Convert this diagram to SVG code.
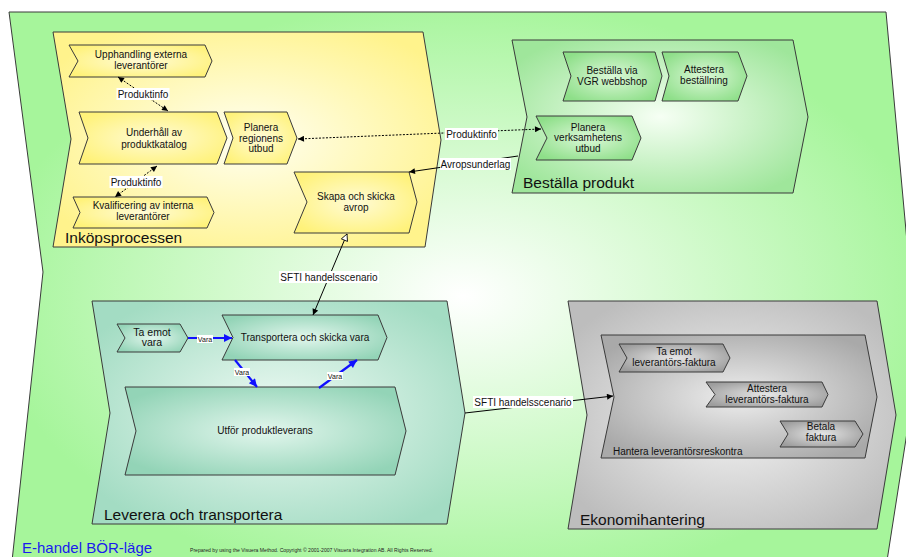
<svg xmlns="http://www.w3.org/2000/svg" width="906" height="557" viewBox="0 0 906 557">
<defs>
<radialGradient id="gOuter" cx="0.5" cy="0.5" r="0.55"><stop offset="0" stop-color="#ffffff"/><stop offset="0.95" stop-color="#a6f59b"/></radialGradient>
<radialGradient id="gYel" cx="0.5" cy="0.5" r="0.6"><stop offset="0" stop-color="#fffff2"/><stop offset="1" stop-color="#fff38c"/></radialGradient>
<radialGradient id="gYelN" cx="0.5" cy="0.5" r="0.6"><stop offset="0" stop-color="#fffbd6"/><stop offset="1" stop-color="#fff27a"/></radialGradient>
<radialGradient id="gGrn" cx="0.5" cy="0.5" r="0.6"><stop offset="0" stop-color="#f6fff4"/><stop offset="1" stop-color="#9fe69b"/></radialGradient>
<radialGradient id="gGrnN" cx="0.5" cy="0.5" r="0.6"><stop offset="0" stop-color="#dcf8d8"/><stop offset="1" stop-color="#8edf89"/></radialGradient>
<radialGradient id="gTeal" cx="0.5" cy="0.5" r="0.6"><stop offset="0" stop-color="#eefaf4"/><stop offset="1" stop-color="#a3dcc3"/></radialGradient>
<radialGradient id="gTealN" cx="0.5" cy="0.5" r="0.6"><stop offset="0" stop-color="#e2f6ed"/><stop offset="1" stop-color="#93d4b7"/></radialGradient>
<radialGradient id="gGray" cx="0.5" cy="0.5" r="0.6"><stop offset="0" stop-color="#f5f5f5"/><stop offset="1" stop-color="#bdbdbd"/></radialGradient>
<radialGradient id="gGrayI" cx="0.5" cy="0.5" r="0.6"><stop offset="0" stop-color="#eeeeee"/><stop offset="1" stop-color="#a9a9a9"/></radialGradient>
<radialGradient id="gGrayN" cx="0.5" cy="0.5" r="0.6"><stop offset="0" stop-color="#e6e6e6"/><stop offset="1" stop-color="#9d9d9d"/></radialGradient>
<marker id="aBlk" viewBox="0 0 10 10" refX="10" refY="5" markerWidth="7" markerHeight="6" markerUnits="userSpaceOnUse" orient="auto-start-reverse"><path d="M0,0 L10,5 L0,10 Z" fill="#000"/></marker>
<marker id="aOpen" viewBox="0 0 12 12" refX="11" refY="6" markerWidth="9" markerHeight="8" markerUnits="userSpaceOnUse" orient="auto-start-reverse"><path d="M1,1 L11,6 L1,11 Z" fill="#fff" stroke="#000" stroke-width="1.2"/></marker>
<marker id="aBlue" viewBox="0 0 10 10" refX="10" refY="5" markerWidth="10" markerHeight="8" markerUnits="userSpaceOnUse" orient="auto"><path d="M0,0 L10,5 L0,10 Z" fill="#1010ff"/></marker>
</defs>
<style>
.sh{stroke:#3a3a3a;stroke-width:1}
.t{font-family:"Liberation Sans",Arial,sans-serif;font-size:10px;fill:#111;text-anchor:middle}
.pl{font-family:"Liberation Sans",Arial,sans-serif;font-size:15.5px;fill:#111}
.lb{fill:#fff}
.dot{stroke:#000;stroke-width:1;stroke-dasharray:2,1.5;fill:none}
.sol{stroke:#000;stroke-width:1;fill:none}
.blu{stroke:#1010ff;stroke-width:2.2;fill:none}
.vt{font-family:"Liberation Sans",Arial,sans-serif;font-size:7px;fill:#111;text-anchor:middle}
</style>

<g id="outer"><path class="sh" d="M9,12 L886,12 L918,362 L884,580 L10,580 L43,272 Z" fill="url(#gOuter)" stroke="#555"/></g>

<g id="inkopsprocessen">
<path class="sh" d="M53,32 L423,32 L441,140 L425,247 L53,247 L71,139 Z" fill="url(#gYel)"/>
<text class="pl" x="65" y="243">Inköpsprocessen</text>
</g>
<g id="bestalla-produkt">
<path class="sh" d="M512,40 L793,40 L808,117 L793,193 L512,193 L527,117 Z" fill="url(#gGrn)"/>
<text class="pl" x="523" y="188">Beställa produkt</text>
</g>
<g id="leverera">
<path class="sh" d="M92,301 L447,301 L465,413 L447,524 L92,524 L110,413 Z" fill="url(#gTeal)"/>
<text class="pl" x="104" y="520">Leverera och transportera</text>
</g>
<g id="ekonomihantering">
<path class="sh" d="M568,301 L877,301 L896,415 L877,529 L568,529 L587,415 Z" fill="url(#gGray)"/>
<text class="pl" x="580" y="525">Ekonomihantering</text>
</g>

<g id="upphandling"><path class="sh" d="M69,45 L205,45 L212,61 L205,77 L69,77 L78,61 Z" fill="url(#gYelN)"/><text class="t" x="141" y="58">Upphandling externa</text><text class="t" x="141" y="69">leverantörer</text></g>
<g id="underhall"><path class="sh" d="M79,112 L217,112 L227,138 L217,164 L79,164 L88,138 Z" fill="url(#gYelN)"/><text class="t" x="154" y="136">Underhåll av</text><text class="t" x="154" y="147.5">produktkatalog</text></g>
<g id="planera-regionens"><path class="sh" d="M224,112 L287,112 L297,138 L287,164 L224,164 L233,138 Z" fill="url(#gYelN)"/><text class="t" x="261" y="130.5">Planera</text><text class="t" x="261" y="141.5">regionens</text><text class="t" x="261" y="152">utbud</text></g>
<g id="kvalificering"><path class="sh" d="M73,197 L207,197 L214,212.5 L207,228 L73,228 L80,212.5 Z" fill="url(#gYelN)"/><text class="t" x="143" y="208.5">Kvalificering av interna</text><text class="t" x="143" y="219.5">leverantörer</text></g>
<g id="skapa-avrop"><path class="sh" d="M294,172 L409,172 L417,202 L409,233 L294,233 L307,202 Z" fill="url(#gYelN)"/><text class="t" x="356" y="199.5">Skapa och skicka</text><text class="t" x="356" y="210.5">avrop</text></g>

<g id="bestalla-via"><path class="sh" d="M563,52 L655,52 L662,76 L655,101 L563,101 L571,76 Z" fill="url(#gGrnN)"/><text class="t" x="612" y="74">Beställa via</text><text class="t" x="612" y="85">VGR webbshop</text></g>
<g id="attestera-bestallning"><path class="sh" d="M662,52 L738,52 L747,76 L738,101 L662,101 L669,76 Z" fill="url(#gGrnN)"/><text class="t" x="704" y="73">Attestera</text><text class="t" x="704" y="84">beställning</text></g>
<g id="planera-verksamhetens"><path class="sh" d="M536,116 L632,116 L641,138 L632,160 L536,160 L547,138 Z" fill="url(#gGrnN)"/><text class="t" x="588" y="130.5">Planera</text><text class="t" x="588" y="141">verksamhetens</text><text class="t" x="588" y="151.5">utbud</text></g>

<g id="ta-emot-vara"><path class="sh" d="M117,324 L180,324 L188,338 L180,352 L117,352 L125,338 Z" fill="url(#gTealN)"/><text class="t" x="152" y="335.5" style="font-size:10.5px">Ta emot</text><text class="t" x="152" y="346" style="font-size:10.5px">vara</text></g>
<g id="transportera"><path class="sh" d="M222,315 L378,315 L387,337.5 L378,360 L222,360 L233,337.5 Z" fill="url(#gTealN)"/><text class="t" x="305" y="341">Transportera och skicka vara</text></g>
<g id="utfor"><path class="sh" d="M125,387 L395,387 L406,431 L395,475 L125,475 L136,431 Z" fill="url(#gTealN)"/><text class="t" x="265" y="434">Utför produktleverans</text></g>

<g id="hantera"><path class="sh" d="M601,335 L865,335 L877,397 L865,458 L601,458 L614,397 Z" fill="url(#gGrayI)"/><text class="t" x="613" y="455" style="text-anchor:start">Hantera leverantörsreskontra</text></g>
<g id="ta-emot-faktura"><path class="sh" d="M619,344 L723,344 L730,358 L723,372 L619,372 L627,358 Z" fill="url(#gGrayN)"/><text class="t" x="674" y="355">Ta emot</text><text class="t" x="674" y="365.5">leverantörs-faktura</text></g>
<g id="attestera-faktura"><path class="sh" d="M706,382 L822,382 L828,394.5 L822,407 L706,407 L715,394.5 Z" fill="url(#gGrayN)"/><text class="t" x="767" y="391.5">Attestera</text><text class="t" x="767" y="402.5">leverantörs-faktura</text></g>
<g id="betala-faktura"><path class="sh" d="M780,421 L855,421 L863,434 L855,447 L780,447 L788,434 Z" fill="url(#gGrayN)"/><text class="t" x="821" y="430">Betala</text><text class="t" x="821" y="441">faktura</text></g>

<g id="connectors">
<line class="dot" x1="118" y1="77" x2="168" y2="111" marker-start="url(#aBlk)" marker-end="url(#aBlk)"/>
<rect class="lb" x="116.5" y="88" width="53" height="12"/><text class="t" x="143" y="97.5">Produktinfo</text>
<line class="dot" x1="157" y1="166" x2="115" y2="197" marker-start="url(#aBlk)" marker-end="url(#aBlk)"/>
<rect class="lb" x="109.5" y="176" width="53" height="12"/><text class="t" x="136" y="185.5">Produktinfo</text>
<line class="dot" x1="298" y1="139" x2="541" y2="129" marker-start="url(#aBlk)" marker-end="url(#aBlk)"/>
<rect class="lb" x="445" y="128" width="53" height="12"/><text class="t" x="471.5" y="137.5">Produktinfo</text>
<line class="sol" x1="518" y1="156" x2="409" y2="172" marker-end="url(#aBlk)"/>
<rect class="lb" x="440" y="158" width="71" height="12"/><text class="t" x="475.5" y="167.5">Avropsunderlag</text>
<line class="sol" x1="347" y1="234" x2="313" y2="315" marker-start="url(#aOpen)" marker-end="url(#aBlk)"/>
<rect class="lb" x="279" y="271" width="100" height="12"/><text class="t" x="329" y="280.5">SFTI handelsscenario</text>
<line class="sol" x1="465" y1="413" x2="613" y2="396" marker-end="url(#aBlk)"/>
<rect class="lb" x="473" y="396" width="100" height="12"/><text class="t" x="523" y="405.5">SFTI handelsscenario</text>
<line class="blu" x1="188" y1="338" x2="232" y2="338" marker-end="url(#aBlue)"/>
<rect class="lb" x="197" y="335" width="16" height="8"/><text class="vt" x="205" y="341.5">Vara</text>
<line class="blu" x1="235" y1="360" x2="257" y2="387" marker-end="url(#aBlue)"/>
<rect class="lb" x="234" y="368" width="16" height="8"/><text class="vt" x="242" y="374.5">Vara</text>
<line class="blu" x1="319" y1="388" x2="357" y2="360" marker-end="url(#aBlue)"/>
<rect class="lb" x="327" y="372" width="16" height="8"/><text class="vt" x="335" y="378.5">Vara</text>
</g>

<text x="22" y="553" style="font-family:'Liberation Sans',Arial,sans-serif;font-size:15px;fill:#1a1aee">E-handel BÖR-läge</text>
<text x="190" y="552" style="font-family:'Liberation Sans',Arial,sans-serif;font-size:5.1px;fill:#222">Prepared by using the Visuera Method. Copyright © 2001-2007 Visuera Integration AB. All Rights Reserved.</text>
</svg>
